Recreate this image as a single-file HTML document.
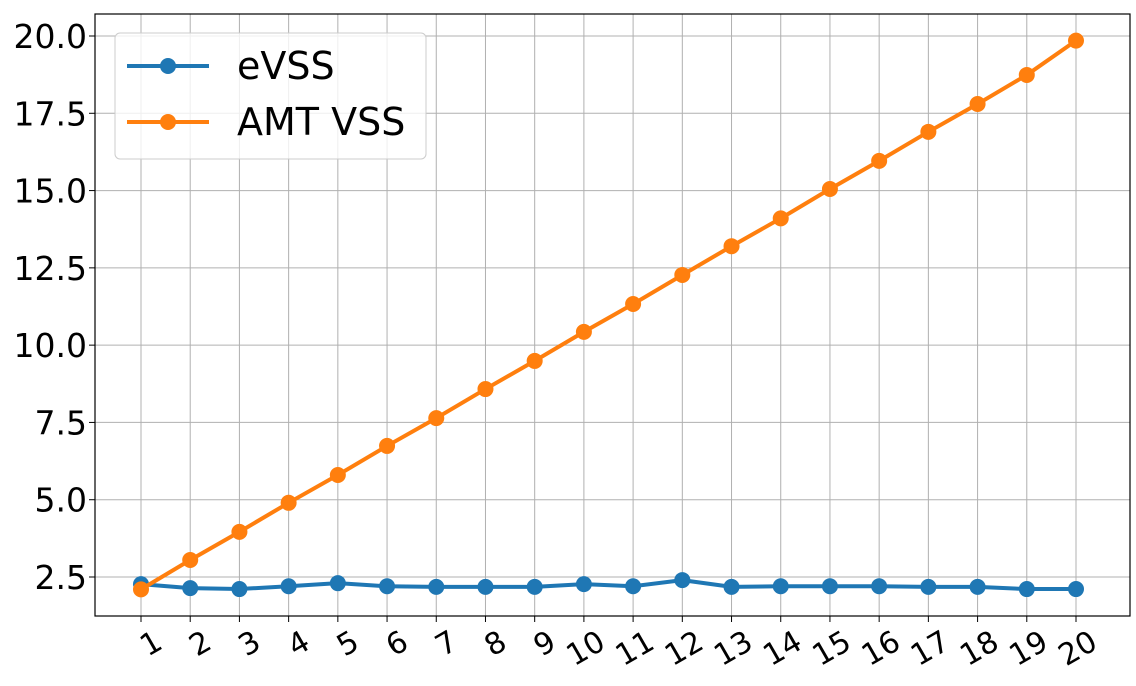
<!DOCTYPE html>
<html><head><meta charset="utf-8"><style>
html,body{margin:0;padding:0;background:#fff;}
svg{display:block;font-family:"DejaVu Sans","Liberation Sans",sans-serif;}
</style></head><body>
<svg id="chart" width="1136" height="686" viewBox="0 0 1136 686" xmlns="http://www.w3.org/2000/svg"></svg>
<script>
const categories=[1,2,3,4,5,6,7,8,9,10,11,12,13,14,15,16,17,18,19,20];
const evss=[2.27,2.14,2.11,2.2,2.3,2.2,2.18,2.18,2.18,2.27,2.2,2.4,2.18,2.2,2.2,2.2,2.18,2.18,2.11,2.11];
const amt=[2.1,3.05,3.96,4.9,5.8,6.74,7.64,8.58,9.49,10.43,11.33,12.27,13.2,14.1,15.05,15.96,16.9,17.8,18.74,19.85];
const yTicks=[2.5,5.0,7.5,10.0,12.5,15.0,17.5,20.0];
const yTickLabels=["2.5","5.0","7.5","10.0","12.5","15.0","17.5","20.0"];

const svg=document.getElementById('chart');
const NS="http://www.w3.org/2000/svg";
const L=95,R=1130,T=14,B=616;
const xS=v=>141+(v-1)*(1076-141)/19;
const yS=v=>577-(v-2.5)*(577-36)/17.5;
function mk(tag,attrs,parent){const e=document.createElementNS(NS,tag);for(const k in attrs)e.setAttribute(k,attrs[k]);(parent||svg).appendChild(e);return e;}

const grid=mk('g',{});


categories.forEach(c=>{const l=mk('line',{x1:xS(c),x2:xS(c),y1:T,y2:B,stroke:'#b0b0b0','stroke-width':1},grid);

});
yTicks.forEach(v=>{const l=mk('line',{x1:L,x2:R,y1:yS(v),y2:yS(v),stroke:'#b0b0b0','stroke-width':1},grid);

});

const frame=mk('rect',{x:L,y:T,width:R-L,height:B-T,fill:'none',stroke:'#000','stroke-width':1.2});



const yax=mk('g',{});


yTicks.forEach((v,i)=>{mk('line',{x1:L-6,x2:L,y1:yS(v),y2:yS(v),stroke:'#000'},yax);
const t=mk('text',{x:L-8,y:yS(v)+12,'text-anchor':'end','font-size':33,fill:'#000'},yax);t.textContent=yTickLabels[i];

});

const xax=mk('g',{});


categories.forEach(c=>{const x=xS(c);mk('line',{x1:x,x2:x,y1:B,y2:B+6,stroke:'#000'},xax);
const ax=x+12,ay=B+12;
const t=mk('text',{x:ax,y:ay,'text-anchor':'end','font-size':30,fill:'#000',transform:`rotate(-30 ${ax} ${ay})`,dy:'0.75em'},xax);t.textContent=c;

});

function series(data,color,name){const g=mk('g',{});


mk('polyline',{points:data.map((v,i)=>xS(categories[i])+','+yS(v)).join(' '),fill:'none',stroke:color,'stroke-width':4,'stroke-linejoin':'round'},g);
data.forEach((v,i)=>{const c=mk('circle',{cx:xS(categories[i]),cy:yS(v),r:8,fill:color},g);

});}
series(evss,'#1f77b4','evss-series');
series(amt,'#ff7f0e','amt-vss-series');

const lg=mk('g',{});


mk('rect',{x:115,y:33,width:311,height:126,rx:5,fill:'#fff','fill-opacity':0.8,stroke:'#ccc'},lg);
[['eVSS','#1f77b4',66],['AMT VSS','#ff7f0e',122]].forEach(([n,c,y])=>{
const e=mk('g',{},lg);


mk('line',{x1:127,x2:209,y1:y,y2:y,stroke:c,'stroke-width':4},e);
mk('circle',{cx:168,cy:y,r:8,fill:c},e);
const t=mk('text',{x:237,y:y+13,'font-size':38,fill:'#000'},e);t.textContent=n;});
</script>
</body></html>
